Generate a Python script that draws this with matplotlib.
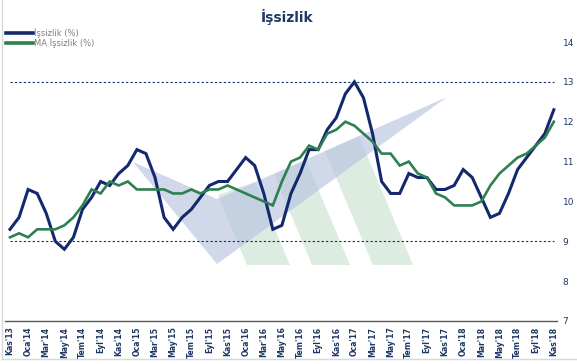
import matplotlib
matplotlib.use('Agg')
import matplotlib.pyplot as plt
from matplotlib.patches import Polygon
from matplotlib.lines import Line2D

# monthly unemployment rate, Kas'13 .. Kas'18
unemp = [9.3, 9.6, 10.3, 10.2, 9.7, 9.0, 8.8, 9.1, 9.8, 10.1,
         10.5, 10.4, 10.7, 10.9, 11.3, 11.2, 10.6, 9.6, 9.3, 9.6,
         9.8, 10.1, 10.4, 10.5, 10.5, 10.8, 11.1, 10.9, 10.2, 9.3,
         9.4, 10.2, 10.7, 11.3, 11.3, 11.8, 12.1, 12.7, 13.0, 12.6,
         11.7, 10.5, 10.2, 10.2, 10.7, 10.6, 10.6, 10.3, 10.3, 10.4,
         10.8, 10.6, 10.1, 9.6, 9.7, 10.2, 10.8, 11.1, 11.4, 11.7, 12.3]

# moving average
ma = [9.1, 9.2, 9.1, 9.3, 9.3, 9.3, 9.4, 9.6, 9.9, 10.3,
      10.2, 10.5, 10.4, 10.5, 10.3, 10.3, 10.3, 10.3, 10.2, 10.2,
      10.3, 10.2, 10.3, 10.3, 10.4, 10.3, 10.2, 10.1, 10.0, 9.9,
      10.5, 11.0, 11.1, 11.4, 11.3, 11.7, 11.8, 12.0, 11.9, 11.7,
      11.5, 11.2, 11.2, 10.9, 11.0, 10.7, 10.6, 10.2, 10.1, 9.9,
      9.9, 9.9, 10.0, 10.4, 10.7, 10.9, 11.1, 11.2, 11.4, 11.6, 12.0]

tick_labels = ["Kas'13", "Oca'14", "Mar'14", "May'14", "Tem'14", "Eyl'14",
               "Kas'14", "Oca'15", "Mar'15", "May'15", "Tem'15", "Eyl'15",
               "Kas'15", "Oca'16", "Mar'16", "May'16", "Tem'16", "Eyl'16",
               "Kas'16", "Oca'17", "Mar'17", "May'17", "Tem'17", "Eyl'17",
               "Kas'17", "Oca'18", "Mar'18", "May'18", "Tem'18", "Eyl'18",
               "Kas'18"]
ref_levels = [9, 13]

navy = '#14286e'
green = '#2e8050'
text_col = '#1f3864'
narrow = ['Liberation Sans Narrow', 'DejaVu Sans']

W, H = 577, 364
fig = plt.figure(figsize=(W / 100, H / 100), dpi=100)
ax = fig.add_axes([5 / W, 1 - 321 / H, 552 / W, 279 / H])

def px(pts):
    # pixel position -> figure fraction (for the background logo only)
    return [(x / W, 1 - y / H) for x, y in pts]

# faint logo in the background
stripes = [
    [(218, 195), (255, 182), (290, 265), (247, 265)],
    [(274, 174), (306, 160), (350, 265), (312, 265)],
    [(325, 151), (359, 136), (413, 265), (373, 265)],
]
for s in stripes:
    ax.add_patch(Polygon(px(s), closed=True, transform=fig.transFigure,
                         facecolor='#dcece1', edgecolor='none', zorder=0.5))
ax.add_patch(Polygon(px([(133, 162), (217, 199), (447, 97), (217, 264)]),
                     closed=True, transform=fig.transFigure,
                     facecolor='#b7c3e0', edgecolor='none', alpha=0.65,
                     zorder=0.6))

x = list(range(len(unemp)))
ax.hlines(ref_levels, x[0], x[-1], colors=navy, linestyles=(0, (2, 2)),
          linewidth=0.8, zorder=1)
ax.plot(x, unemp, color=navy, lw=2.2, label='İşsizlik (%)', zorder=3,
        solid_joinstyle='miter')
ax.plot(x, ma, color=green, lw=1.9, label='MA İşsizlik (%)', zorder=3,
        solid_joinstyle='miter')

ax.set_xlim(-0.55, 60.35)
ax.set_ylim(7, 14)
ax.set_xticks(x[::2])
ax.set_xticklabels(tick_labels, rotation=90, fontsize=5.6, fontweight='bold',
                   color=text_col, family=narrow)
ax.yaxis.tick_right()
ax.set_yticks(range(7, 15))
ax.tick_params(axis='y', length=0, pad=4, labelsize=6.5, labelcolor=text_col)
ax.tick_params(axis='x', length=0, pad=4)
for side in ['top', 'left', 'right']:
    ax.spines[side].set_visible(False)
ax.spines['bottom'].set_color('#595959')
ax.spines['bottom'].set_linewidth(1.0)
ax.patch.set_alpha(0)

fig.text(287 / W, 1 - 17 / H, 'İşsizlik', ha='center', va='center',
         fontsize=10, fontweight='bold', color=text_col)
leg = fig.legend(loc='upper left', bbox_to_anchor=(0.0, 1 - 22 / H),
                 frameon=False, fontsize=6, labelcolor='#7f7f7f',
                 handlelength=3.2, handletextpad=0.2, borderaxespad=0.3,
                 labelspacing=0.1)
for line in leg.get_lines():
    line.set_linewidth(2.6)

# light frame on the left and bottom of the chart area
fig.add_artist(Line2D([1.5 / W, 1.5 / W], [1 - 359 / H, 1], color='#d9d9d9', lw=1))
fig.add_artist(Line2D([1.5 / W, 1], [1 - 359 / H, 1 - 359 / H], color='#d9d9d9', lw=1))

fig.savefig('out.png', dpi=100)
